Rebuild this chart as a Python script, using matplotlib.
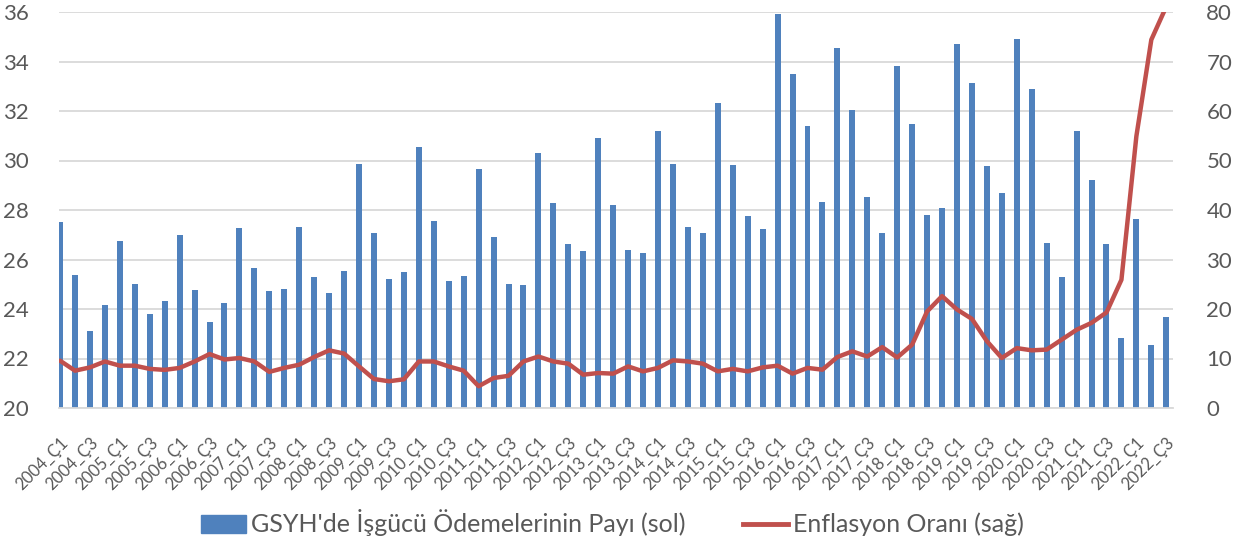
import matplotlib
matplotlib.use("Agg")
from matplotlib import pyplot as plt
from matplotlib.patches import Patch
from matplotlib.lines import Line2D

plt.rcParams['font.family'] = ['Lato', 'DejaVu Sans']

# GSYH'de isgucu odemelerinin payi (%) - sol eksen
share = [27.52, 25.39, 23.12, 24.16, 26.76, 25.01, 23.81, 24.32, 27.0, 24.77,
         23.46, 24.25, 27.27, 25.67, 24.73, 24.82, 27.33, 25.29, 24.63, 25.52,
         29.87, 27.08, 25.2, 25.48, 30.53, 27.56, 25.14, 25.33, 29.67, 26.9,
         25.01, 24.96, 30.29, 28.27, 26.61, 26.33, 30.91, 28.21, 26.38, 26.28,
         31.18, 29.87, 27.31, 27.08, 32.31, 29.82, 27.75, 27.22, 35.9, 33.5,
         31.38, 28.31, 34.53, 32.04, 28.54, 27.08, 33.83, 31.47, 27.8, 28.08,
         34.69, 33.13, 29.78, 28.69, 34.91, 32.87, 26.65, 25.29, 31.18, 29.2,
         26.61, 22.83, 27.65, 22.55, 23.69]

# enflasyon orani (%) - sag eksen
inflation = [9.56, 7.54, 8.2, 9.4, 8.55, 8.55, 7.9, 7.7, 8.1, 9.4,
             10.9, 9.8, 10.1, 9.4, 7.3, 8.1, 8.75, 10.3, 11.65, 11.0,
             8.4, 5.86, 5.4, 5.8, 9.4, 9.4, 8.4, 7.54, 4.4, 6.06,
             6.5, 9.4, 10.4, 9.4, 8.96, 6.73, 7.07, 6.94, 8.4, 7.4,
             8.1, 9.63, 9.4, 8.96, 7.4, 7.9, 7.4, 8.2, 8.55, 6.94,
             8.1, 7.74, 10.3, 11.45, 10.4, 12.3, 10.2, 12.8, 19.5, 22.6,
             19.9, 18.0, 13.5, 10.1, 12.1, 11.65, 11.8, 13.8, 15.8, 17.2,
             19.3, 25.9, 54.9, 74.4, 81.1]

years = range(2004, 2023)
quarters = [f"{y}_Ç{q}" for y in years for q in (1, 2, 3, 4)][:len(share)]

bar_color = '#4F81BD'
line_color = '#C0504D'
grid_color = '#D9D9D9'
text_color = '#595959'

fig = plt.figure(figsize=(12.47, 5.44), dpi=100)
ax = fig.add_axes([59 / 1247, 1 - 408 / 544, (1173 - 59) / 1247, (408 - 12) / 544])
ax2 = ax.twinx()

x = list(range(len(share)))
ax.bar(x, [v - 20 for v in share], bottom=20, width=0.4, color=bar_color, zorder=2)
ax2.plot(x, inflation, color=line_color, lw=3.2, solid_capstyle='round', zorder=3)

ax.set_xlim(-0.07, 74.45)
ax.set_ylim(20, 36)
ax.set_yticks(range(20, 37, 2))
ax2.set_ylim(0, 80)
ax2.set_yticks(range(0, 81, 10))

ax.yaxis.grid(True, color=grid_color, lw=1.3)
ax.set_axisbelow(True)
for a in (ax, ax2):
    for s in a.spines.values():
        s.set_visible(False)
ax.spines['bottom'].set_visible(True)
ax.spines['bottom'].set_color(grid_color)
ax.spines['bottom'].set_linewidth(1.3)

ax.set_xticks(x[::2])
ax.set_xticklabels(quarters[::2], rotation=45, ha='right', va='top',
                   rotation_mode='anchor', fontsize=12, color=text_color)
ax.tick_params(axis='x', length=0, pad=19)
ax.tick_params(axis='y', length=0, pad=22, labelsize=16, labelcolor=text_color)
ax2.tick_params(axis='y', length=0, pad=24, labelsize=16, labelcolor=text_color)

handles = [Patch(color=bar_color), Line2D([], [], color=line_color, lw=3.5)]
labels = ["GSYH'de İşgücü Ödemelerinin Payı (sol)", "Enflasyon Oranı (sağ)"]
fig.legend(handles, labels, loc='center', bbox_to_anchor=(612 / 1247, 1 - 523 / 544),
           ncol=2, frameon=False, fontsize=18, labelcolor=text_color,
           handlelength=1.8, handletextpad=0.2, columnspacing=2.3)

fig.savefig('out.png', dpi=100)
